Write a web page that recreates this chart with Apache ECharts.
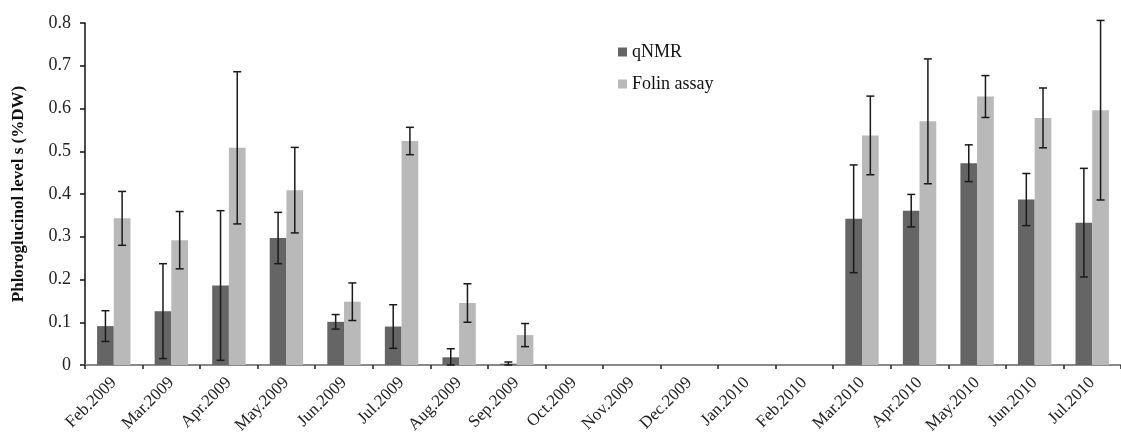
<!DOCTYPE html>
<html>
<head>
<meta charset="utf-8">
<script src="https://cdn.jsdelivr.net/npm/echarts@6/dist/echarts.min.js"></script>
<style>
  html, body { margin: 0; padding: 0; background: #fff; }
  #chart { width: 1121px; height: 440px; }
</style>
</head>
<body>
<div id="chart"></div>
<script>
const months = [
  "Feb.2009", "Mar.2009", "Apr.2009", "May.2009", "Jun.2009", "Jul.2009",
  "Aug.2009", "Sep.2009", "Oct.2009", "Nov.2009", "Dec.2009", "Jan.2010",
  "Feb.2010", "Mar.2010", "Apr.2010", "May.2010", "Jun.2010", "Jul.2010"
];
const qnmr =      [0.091, 0.126, 0.186, 0.297, 0.101, 0.090, 0.018, 0.003, 0, 0, 0, 0, 0, 0.342, 0.361, 0.472, 0.387, 0.333];
const qnmrErr =   [0.036, 0.111, 0.175, 0.060, 0.017, 0.051, 0.020, 0.004, 0, 0, 0, 0, 0, 0.126, 0.038, 0.043, 0.061, 0.127];
const folin =     [0.343, 0.292, 0.508, 0.409, 0.148, 0.524, 0.145, 0.070, 0, 0, 0, 0, 0, 0.537, 0.570, 0.628, 0.578, 0.596];
const folinErr =  [0.063, 0.067, 0.178, 0.100, 0.044, 0.032, 0.045, 0.027, 0, 0, 0, 0, 0, 0.092, 0.146, 0.049, 0.070, 0.210];

const serif = '"Liberation Serif", "Times New Roman", serif';
const darkGrey = "#656565";
const lightGrey = "#b9b9b9";

// error bar data: [index, low, high], zero months skipped
function errData(means, errs) {
  const out = [];
  means.forEach((m, i) => {
    if (m > 0) out.push([i, Math.max(0, m - errs[i]), m + errs[i]]);
  });
  return out;
}

function errRenderer(shift) {
  return function (params, api) {
    const idx = api.value(0);
    const band = api.size([1, 0])[0];
    const x = api.coord([idx, 0])[0] + shift * band;
    const top = api.coord([idx, api.value(2)])[1];
    const bot = api.coord([idx, api.value(1)])[1];
    const cap = 4;
    const style = { stroke: "#1a1a1a", lineWidth: 1.5 };
    return {
      type: "group",
      children: [
        { type: "line", shape: { x1: x, y1: top, x2: x, y2: bot }, style },
        { type: "line", shape: { x1: x - cap, y1: top, x2: x + cap, y2: top }, style },
        { type: "line", shape: { x1: x - cap, y1: bot, x2: x + cap, y2: bot }, style }
      ]
    };
  };
}

const chart = echarts.init(document.getElementById("chart"));

chart.setOption({
  backgroundColor: "#fff",
  animation: false,
  grid: { left: 85, top: 23, width: 1049, height: 342 },
  legend: {
    orient: "vertical",
    left: 613,
    top: 38,
    itemWidth: 9,
    itemHeight: 9,
    itemGap: 14,
    icon: "rect",
    textStyle: { fontFamily: serif, fontSize: 18, color: "#111" },
    data: ["qNMR", "Folin assay"]
  },
  xAxis: {
    type: "category",
    data: months,
    axisLine: { lineStyle: { color: "#8a8a8a", width: 2 } },
    axisTick: { show: true, length: 4, lineStyle: { color: "#222", width: 1.5 } },
    axisLabel: {
      rotate: 45,
      interval: 0,
      fontFamily: serif,
      fontSize: 17,
      color: "#222",
      margin: 15
    }
  },
  yAxis: {
    type: "value",
    min: 0,
    max: 0.8,
    interval: 0.1,
    name: "Phloroglucinol level s (%DW)",
    nameLocation: "middle",
    nameGap: 58,
    nameTextStyle: { fontFamily: serif, fontSize: 17, fontWeight: "bold", color: "#111" },
    axisLine: { show: true, lineStyle: { color: "#111", width: 1.5 } },
    axisTick: { show: true, length: 5, lineStyle: { color: "#111", width: 1.5 } },
    splitLine: { show: false },
    axisLabel: {
      fontFamily: serif,
      fontSize: 18,
      color: "#222",
      margin: 14,
      formatter: v => (v === 0 ? "0" : v.toFixed(1))
    }
  },
  series: [
    {
      name: "qNMR",
      type: "bar",
      data: qnmr,
      barGap: "0%",
      barCategoryGap: "42%",
      itemStyle: { color: darkGrey }
    },
    {
      name: "Folin assay",
      type: "bar",
      data: folin,
      itemStyle: { color: lightGrey }
    },
    {
      type: "custom",
      renderItem: errRenderer(-0.145),
      data: errData(qnmr, qnmrErr),
      z: 10
    },
    {
      type: "custom",
      renderItem: errRenderer(0.145),
      data: errData(folin, folinErr),
      z: 10
    }
  ]
});
</script>
</body>
</html>
